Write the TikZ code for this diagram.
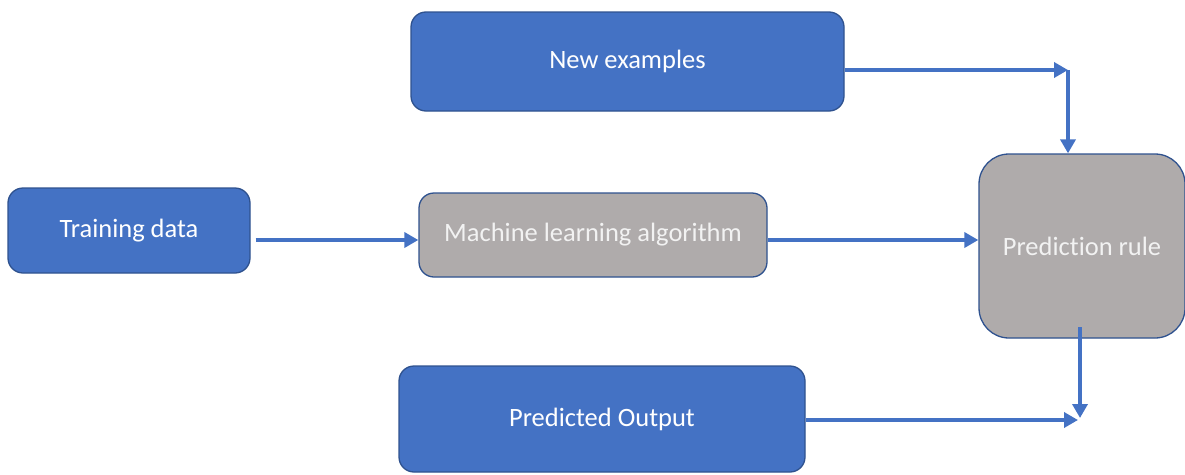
\documentclass[tikz,border=0pt]{standalone}
\usepackage{fontspec}
\setmainfont{Carlito}[Ligatures=NoCommon]
\usetikzlibrary{arrows.meta,calc}
\definecolor{boxblue}{HTML}{4472C4}
\definecolor{edgeblue}{HTML}{2F528F}
\definecolor{boxgray}{HTML}{AFABAB}
\definecolor{arrblue}{HTML}{4472C4}
\tikzset{
  bluebox/.style={draw=edgeblue, line width=1.3pt, fill=boxblue, rounded corners=15pt, text=white, font=\fontsize{26.5}{30}\selectfont, inner sep=0pt},
  graybox/.style={draw=edgeblue, line width=1.3pt, fill=boxgray, rounded corners=15pt, text=white!95!black, font=\fontsize{26.5}{30}\selectfont, inner sep=0pt},
  flow/.style={draw=arrblue, line width=3.5pt, -{Triangle[length=14pt,width=15pt]}},
}
\begin{document}
\begin{tikzpicture}[x=1pt,y=-1pt]
\useasboundingbox (0,0) rectangle (1185,474);
\node[bluebox, minimum width=433pt, minimum height=99pt] (ne) at (627.5,61.5) {\raisebox{-3pt}{New examples}};
\node[bluebox, minimum width=242pt, minimum height=85pt] (td) at (129,230.5) {\raisebox{-3pt}{Training data}};
\node[graybox, minimum width=348pt, minimum height=84pt] (ml) at (593,235) {\raisebox{-3pt}{Machine learning algorithm}};
\node[graybox, rounded corners=30pt, minimum width=206pt, minimum height=184pt] (pr) at (1082,246) {\raisebox{-2pt}{Prediction rule}};
\node[bluebox, minimum width=406pt, minimum height=106pt] (po) at (602,419) {\raisebox{-3pt}{Predicted Output}};
\coordinate (c1) at (1068,70);
\coordinate (c2) at (1080,418);
\coordinate (c3) at (1078,420);
\draw[flow] ($(ne.east)+(0,8.5)$) -- (c1);
\draw[flow] (c1) -- (c1 |- pr.north);
\draw[flow] ($(td.east)+(5,9.5)$) -- ($(ml.west)+(0,5)$);
\draw[flow] ($(ml.east)+(0,5)$) -- ($(pr.west)+(0,-6)$);
\draw[flow] (c2 |- 0,327) -- (c2);
\draw[flow] (po.east |- c3) -- (c3);
\end{tikzpicture}
\end{document}
